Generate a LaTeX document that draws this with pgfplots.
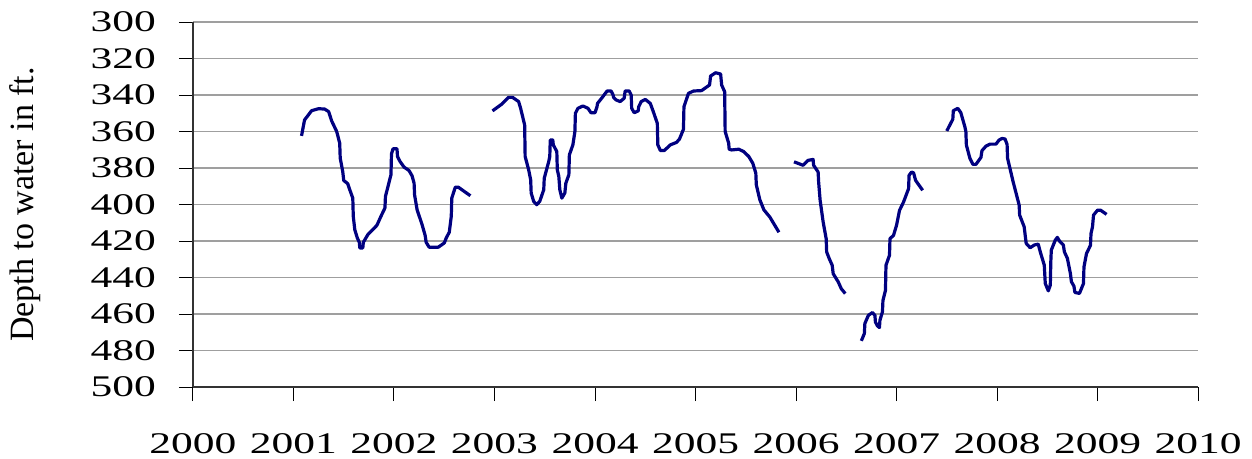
\documentclass[border=0pt]{standalone}
\usepackage{fontspec}
\setmainfont{Liberation Serif}
\newfontfamily\tickfont[FakeStretch=1.45]{Liberation Serif}
\usepackage{pgfplots}
\pgfplotsset{compat=1.18}

\definecolor{wellblue}{RGB}{0,0,128}
\pgfplotsset{well/.style={wellblue,line width=1.6pt,line join=round,no marks}}

\begin{document}
\begin{tikzpicture}
\begin{axis}[
  name=ax,
  scale only axis,
  width=502.5pt,
  height=182.5pt,
  xmin=2000, xmax=2010,
  ymin=300, ymax=500,
  y dir=reverse,
  axis x line=bottom,
  axis y line=left,
  axis line style={black!80,line width=0.9pt,-},
  xtick={2000,2001,...,2010},
  ytick={300,320,...,500},
  /pgf/number format/1000 sep={},
  /pgf/number format/assume math mode=true,
  tick align=outside,
  major tick length=7pt,
  tick style={black,line width=0.5pt},
  ymajorgrids=true,
  grid style={gray!75,line width=0.6pt},
  ticklabel style={font=\tickfont\fontsize{15}{15}\selectfont},
  xticklabel style={yshift=-12.5pt},
  yticklabel style={xshift=-8pt},
  ylabel={Depth to water in ft.},
  ylabel style={font=\fontsize{17}{17}\selectfont,at={(axis description cs:-0.167,0.5)},anchor=center},
  clip=false
]
\addplot[well] coordinates {(2001.08,362.4)(2001.11,353.7)(2001.18,348.6)(2001.25,347.5)(2001.31,347.7)(2001.35,349.1)(2001.38,354.2)(2001.43,360)(2001.46,366.4)(2001.465,374.6)(2001.49,381.9)(2001.50,386.8)(2001.54,388.6)(2001.56,391.9)(2001.59,396.5)(2001.595,406.5)(2001.61,413.8)(2001.635,418.3)(2001.655,420.7)(2001.66,423.8)(2001.69,423.8)(2001.695,420.7)(2001.74,416.5)(2001.83,411.4)(2001.87,406.5)(2001.91,401.9)(2001.915,395.6)(2001.97,383.7)(2001.975,372.3)(2001.99,369.5)(2002.03,369.5)(2002.035,373.7)(2002.06,376.4)(2002.10,379.5)(2002.15,381.4)(2002.18,384.3)(2002.20,388.3)(2002.205,394.7)(2002.23,402.9)(2002.28,411.1)(2002.31,416.9)(2002.32,420.7)(2002.35,423.4)(2002.44,423.4)(2002.50,421.1)(2002.52,418.3)(2002.55,415.2)(2002.57,406.5)(2002.575,396.5)(2002.61,390.5)(2002.64,390.5)(2002.76,395.2)};
\addplot[well] coordinates {(2002.98,348.7)(2003.07,345.1)(2003.14,341.3)(2003.18,341.3)(2003.24,343.6)(2003.26,347.3)(2003.30,356.4)(2003.305,373.7)(2003.34,381)(2003.36,386.5)(2003.365,393.7)(2003.39,398.3)(2003.42,400.1)(2003.45,398.3)(2003.49,391.9)(2003.495,385.6)(2003.54,376.4)(2003.55,373.7)(2003.555,364.6)(2003.58,364.6)(2003.585,367.3)(2003.62,371)(2003.625,381)(2003.64,384.6)(2003.65,391.9)(2003.67,396.5)(2003.70,393.7)(2003.71,388.3)(2003.74,383.7)(2003.745,372.8)(2003.78,367.3)(2003.80,360)(2003.805,350)(2003.83,347.3)(2003.88,346)(2003.93,347.3)(2003.96,349.7)(2004.00,349.7)(2004.02,346.4)(2004.025,344.6)(2004.07,341.5)(2004.12,337.8)(2004.16,337.8)(2004.18,340)(2004.185,341.3)(2004.21,342.7)(2004.25,343.6)(2004.29,341.8)(2004.30,337.8)(2004.34,337.8)(2004.36,340)(2004.365,347.3)(2004.39,349.7)(2004.43,348.7)(2004.435,346.4)(2004.46,343.6)(2004.50,342.4)(2004.55,344.6)(2004.58,349.1)(2004.62,355.5)(2004.625,367.3)(2004.65,370.4)(2004.69,370.4)(2004.75,367.3)(2004.81,366)(2004.84,364.2)(2004.88,358.8)(2004.885,346.4)(2004.93,339.1)(2004.98,337.8)(2005.06,337.6)(2005.14,334.5)(2005.15,329.6)(2005.20,327.8)(2005.25,328.5)(2005.26,334.5)(2005.29,338.2)(2005.295,360)(2005.33,366.4)(2005.335,369.7)(2005.36,370.1)(2005.43,369.7)(2005.48,371)(2005.53,373.7)(2005.57,377.4)(2005.60,382.8)(2005.605,389.2)(2005.64,397.4)(2005.68,402.9)(2005.74,406.9)(2005.83,415.2)};
\addplot[well] coordinates {(2005.98,376.6)(2006.07,378.5)(2006.12,375.8)(2006.17,375.3)(2006.175,378.5)(2006.22,382.2)(2006.225,387.7)(2006.24,397.7)(2006.27,409.6)(2006.30,418.7)(2006.305,426)(2006.33,429.6)(2006.36,433.3)(2006.37,437.9)(2006.42,442.4)(2006.45,446.1)(2006.49,448.8)};
\addplot[well] coordinates {(2006.65,474.7)(2006.68,470.7)(2006.685,465.2)(2006.72,460.7)(2006.76,459.2)(2006.785,460.7)(2006.79,464.4)(2006.81,466.5)(2006.83,467.4)(2006.835,463.4)(2006.86,458.8)(2006.865,452.5)(2006.89,447)(2006.895,433.3)(2006.93,427.8)(2006.935,418.7)(2006.97,416.9)(2007.00,411.4)(2007.03,403.2)(2007.07,398.6)(2007.12,391.3)(2007.125,384)(2007.15,382.2)(2007.17,382.7)(2007.19,386.8)(2007.26,392.2)};
\addplot[well] coordinates {(2007.50,359.7)(2007.56,353.3)(2007.565,348.6)(2007.61,347.3)(2007.64,349.7)(2007.68,357.4)(2007.69,360.1)(2007.695,367.4)(2007.73,374.7)(2007.76,378)(2007.79,378)(2007.84,374.2)(2007.85,370.5)(2007.89,368)(2007.93,366.9)(2007.99,366.9)(2008.02,364.7)(2008.05,363.8)(2008.08,364.1)(2008.10,367.1)(2008.105,374.7)(2008.16,387.5)(2008.22,400.3)(2008.225,405.8)(2008.27,412.2)(2008.29,421.3)(2008.33,423.7)(2008.37,422.2)(2008.41,421.7)(2008.43,425.9)(2008.47,433.2)(2008.48,443.3)(2008.51,447.3)(2008.53,444.2)(2008.535,431.4)(2008.54,425)(2008.58,419.5)(2008.60,418)(2008.62,419.9)(2008.66,422.2)(2008.67,425.9)(2008.70,429.5)(2008.73,437.8)(2008.74,442.3)(2008.765,444.7)(2008.775,448.2)(2008.82,448.7)(2008.86,443.3)(2008.865,434.2)(2008.89,426.9)(2008.93,422.3)(2008.935,415.9)(2008.95,412.2)(2008.96,405.8)(2009.00,403.1)(2009.03,403.1)(2009.09,405.4)};
\coordinate (bl) at (axis description cs:-0.192,-0.1945);
\coordinate (tr) at (axis description cs:1.0537,1.0603);
\end{axis}
\pgfresetboundingbox
\path (bl) rectangle (tr);
\end{tikzpicture}
\end{document}
